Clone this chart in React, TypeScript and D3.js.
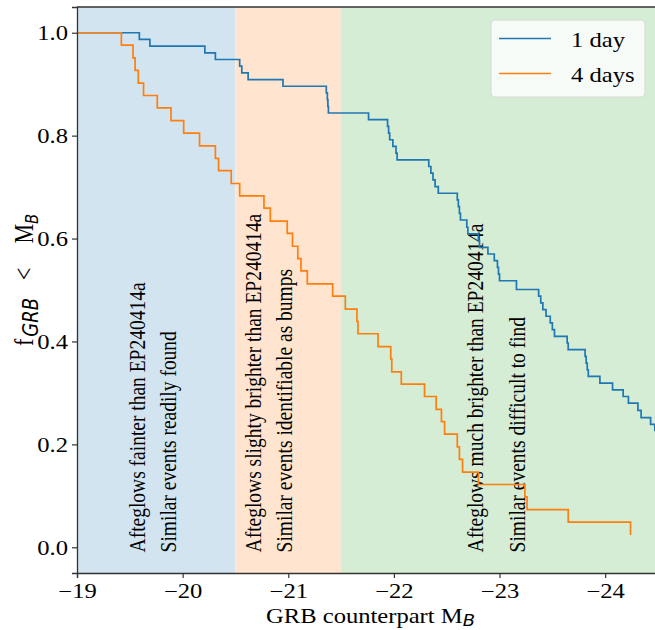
import React, { useEffect, useRef } from 'react';
import * as d3 from 'd3';

// step breakpoints: at x the fraction drops to y
const oneDayX = [-19, -19.59, -19.69, -20.21, -20.31, -20.54, -20.56, -20.62, -20.95, -21.36, -21.37, -21.375, -21.38, -21.76, -21.94, -21.95, -21.96, -21.99, -22.02, -22.03, -22.33, -22.35, -22.37, -22.39, -22.42, -22.6, -22.61, -22.62, -22.63, -22.69, -22.7, -22.8, -22.81, -22.89, -22.95, -22.98, -22.99, -23.0, -23.16, -23.37, -23.39, -23.41, -23.44, -23.48, -23.5, -23.52, -23.64, -23.65, -23.81, -23.82, -23.83, -23.84, -23.95, -24.07, -24.17, -24.22, -24.31, -24.34, -24.43, -24.47];
const oneDayY = [1.0, 0.987, 0.974, 0.961, 0.948, 0.935, 0.922, 0.909, 0.896, 0.883, 0.87, 0.857, 0.844, 0.831, 0.818, 0.805, 0.792, 0.779, 0.766, 0.753, 0.74, 0.727, 0.714, 0.701, 0.688, 0.675, 0.662, 0.649, 0.636, 0.622, 0.609, 0.596, 0.583, 0.57, 0.557, 0.544, 0.531, 0.518, 0.501, 0.488, 0.475, 0.462, 0.449, 0.436, 0.423, 0.41, 0.397, 0.384, 0.371, 0.358, 0.345, 0.332, 0.319, 0.306, 0.293, 0.28, 0.266, 0.252, 0.239, 0.227];

const fourDayX = [-19, -19.42, -19.53, -19.55, -19.58, -19.63, -19.76, -19.89, -20.01, -20.16, -20.31, -20.34, -20.46, -20.54, -20.77, -20.83, -20.99, -21.04, -21.09, -21.12, -21.18, -21.42, -21.54, -21.65, -21.66, -21.85, -21.97, -21.98, -22.07, -22.29, -22.4, -22.45, -22.48, -22.6, -22.62, -22.65, -22.8, -23.24, -23.26, -23.65, -24.24];
const fourDayY = [1.0, 0.976, 0.951, 0.927, 0.902, 0.878, 0.854, 0.829, 0.805, 0.78, 0.756, 0.732, 0.707, 0.683, 0.659, 0.634, 0.61, 0.585, 0.561, 0.537, 0.512, 0.488, 0.463, 0.439, 0.415, 0.39, 0.366, 0.341, 0.317, 0.293, 0.268, 0.244, 0.22, 0.195, 0.171, 0.146, 0.122, 0.098, 0.073, 0.049, 0.024];

const regionStart = [-19, -20.5, -21.5];
const regionEnd = [-20.5, -21.5, -24.6];
const regionColors = ['#d2e4f0', '#ffe5cf', '#d5ecd5'];

const noteX = [-19.57, -19.86, -20.67, -20.96, -22.77, -23.17];
const noteText = [
  'Afteglows fainter than EP240414a',
  'Similar events readily found',
  'Afteglows slighty brighter than EP240414a',
  'Similar events identifiable as bumps',
  'Afteglows much brighter than EP240414a',
  'Similar events difficult to find',
];

const xTicks = [-19, -20, -21, -22, -23, -24];
const yTicks = [0, 0.2, 0.4, 0.6, 0.8, 1.0];

const seriesNames = ['1 day', '4 days'];
const seriesColors = ['#1f77b4', '#ff7f0e'];

const FONT = '"Liberation Serif", "Times New Roman", serif';
const SUBFONT = '"DejaVu Sans", sans-serif';
const SX = 1.2; // picture is stretched horizontally

const App: React.FC = () => {
  const ref = useRef<SVGSVGElement | null>(null);

  useEffect(() => {
    const W = 655, H = 630;
    const left = 77, right = 658, top = 7, bottom = 573;

    const svg = d3.select(ref.current);
    svg.selectAll('*').remove();
    svg.attr('width', W).attr('height', H);
    svg.append('rect').attr('width', W).attr('height', H).attr('fill', 'white');

    const x = d3.scaleLinear().domain([-19, -24.5]).range([left, right]);
    const y = d3.scaleLinear().domain([-0.05, 1.05]).range([bottom, top]);

    svg.append('defs').append('clipPath').attr('id', 'plotclip')
      .append('rect').attr('x', left).attr('y', top).attr('width', right - left).attr('height', bottom - top);

    const plot = svg.append('g').attr('clip-path', 'url(#plotclip)');

    regionStart.forEach((s, i) => {
      plot.append('rect')
        .attr('x', x(s))
        .attr('y', top)
        .attr('width', x(regionEnd[i]) - x(s))
        .attr('height', bottom - top)
        .attr('fill', regionColors[i]);
    });

    // annotations
    noteText.forEach((t, i) => {
      plot.append('text')
        .attr('transform', `translate(${x(noteX[i])},${y(-0.01)}) scale(${SX},1) rotate(-90)`)
        .attr('dy', '0.33em')
        .attr('text-anchor', 'start')
        .style('font-family', FONT)
        .style('font-size', '19.5px')
        .style('fill', 'black')
        .text(t);
    });

    const line = d3.line<[number, number]>()
      .x(d => x(d[0]))
      .y(d => y(d[1]))
      .curve(d3.curveStepAfter);

    const oneDay: [number, number][] = oneDayX.map((v, i) => [v, oneDayY[i]]);
    oneDay.push([-24.6, oneDayY[oneDayY.length - 1]]);
    const fourDay: [number, number][] = fourDayX.map((v, i) => [v, fourDayY[i]]);

    plot.append('path').datum(oneDay)
      .attr('d', line)
      .attr('fill', 'none')
      .attr('stroke', seriesColors[0])
      .attr('stroke-width', 1.7);

    plot.append('path').datum(fourDay)
      .attr('d', line)
      .attr('fill', 'none')
      .attr('stroke', seriesColors[1])
      .attr('stroke-width', 1.7);

    // axes
    const xAxis = svg.append('g')
      .attr('transform', `translate(0,${bottom})`)
      .call(d3.axisBottom(x).tickValues(xTicks).tickSize(5).tickFormat(d3.format('d')));
    xAxis.select('.domain').attr('stroke', '#333').attr('stroke-width', 1.3);
    xAxis.selectAll('.tick line').attr('stroke', '#333').attr('stroke-width', 1.2);
    xAxis.selectAll('.tick text')
      .attr('y', 0).attr('dy', 0)
      .attr('transform', `translate(0,25) scale(${SX},1)`)
      .style('font-family', FONT).style('font-size', '20.5px').style('fill', 'black');

    const yAxis = svg.append('g')
      .attr('transform', `translate(${left},0)`)
      .call(d3.axisLeft(y).tickValues(yTicks).tickSize(5).tickFormat(d3.format('.1f')));
    yAxis.select('.domain').attr('stroke', '#333').attr('stroke-width', 1.3);
    yAxis.selectAll('.tick line').attr('stroke', '#333').attr('stroke-width', 1.2);
    yAxis.selectAll('.tick text')
      .attr('x', 0).attr('dy', 0)
      .attr('transform', `translate(-9,7) scale(${SX},1)`)
      .style('font-family', FONT).style('font-size', '20.5px').style('fill', 'black');

    // top spine
    svg.append('line').attr('x1', left).attr('x2', right).attr('y1', top).attr('y2', top)
      .attr('stroke', '#333').attr('stroke-width', 1.3);

    // axis labels
    const xl = svg.append('text')
      .attr('transform', `translate(${(left + right) / 2 + 3},623) scale(${SX},1)`)
      .attr('text-anchor', 'middle')
      .style('font-family', FONT).style('font-size', '20.5px').style('fill', 'black');
    xl.append('tspan').text('GRB counterpart M');
    xl.append('tspan').attr('dy', 3).style('font-size', '15px').style('font-style', 'italic')
      .style('font-family', SUBFONT).text('B');

    const yl = svg.append('text')
      .attr('transform', `translate(33,346) scale(${SX},1) rotate(-90)`)
      .attr('text-anchor', 'start')
      .style('font-family', FONT).style('font-size', '22px').style('fill', 'black');
    yl.append('tspan').text('f');
    yl.append('tspan').attr('dx', 2).attr('dy', 4).style('font-size', '18px').style('font-style', 'italic')
      .style('font-family', SUBFONT).text('GRB');
    yl.append('tspan').attr('dx', 18).attr('dy', -4).text('<');
    yl.append('tspan').attr('dx', 24).text('M');
    yl.append('tspan').attr('dy', 4).style('font-size', '15px').style('font-style', 'italic')
      .style('font-family', SUBFONT).text('B');

    // legend
    const lg = svg.append('g');
    lg.append('rect')
      .attr('x', 491).attr('y', 20).attr('width', 154).attr('height', 77)
      .attr('rx', 4)
      .attr('fill', 'rgba(255,255,255,0.8)')
      .attr('stroke', '#d8d8d8');
    seriesNames.forEach((n, i) => {
      const yy = 38.5 + i * 35;
      lg.append('line').attr('x1', 499).attr('x2', 551).attr('y1', yy).attr('y2', yy)
        .attr('stroke', seriesColors[i]).attr('stroke-width', 1.7);
      lg.append('text')
        .attr('transform', `translate(571,${yy + 8}) scale(${SX},1)`)
        .style('font-family', FONT).style('font-size', '20.5px').style('fill', 'black')
        .text(n);
    });
  }, []);

  return (
    <svg ref={ref} style={{ position: 'absolute', left: 0, top: 0 }} />
  );
};

export default App;
